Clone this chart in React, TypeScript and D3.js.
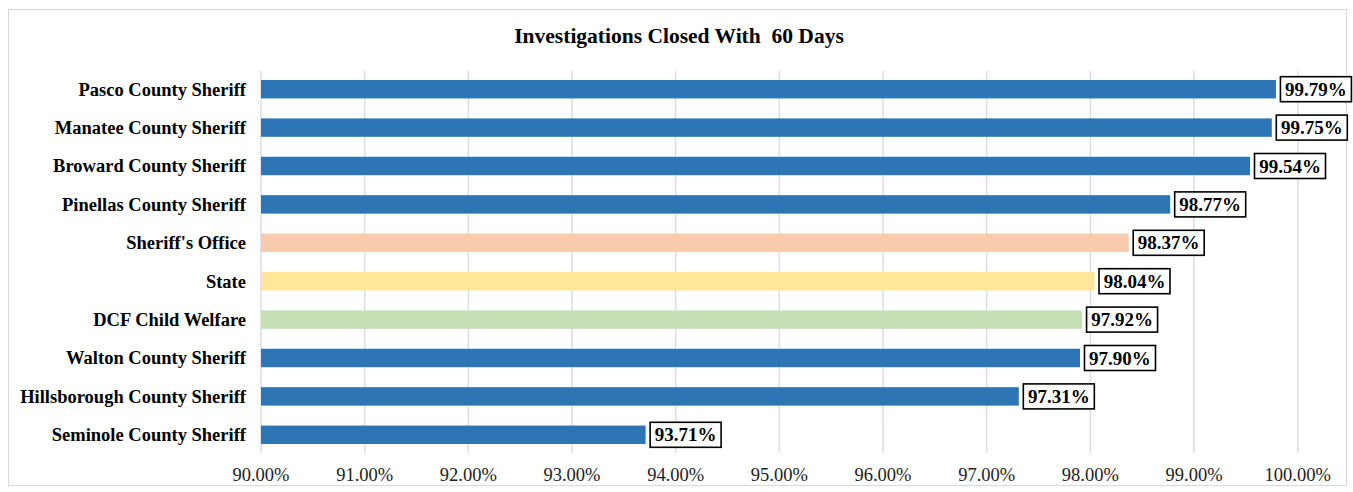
import React from "react";
import * as d3 from "d3";

const categories = [
  "Pasco County Sheriff",
  "Manatee County Sheriff",
  "Broward County Sheriff",
  "Pinellas County Sheriff",
  "Sheriff's Office",
  "State",
  "DCF Child Welfare",
  "Walton County Sheriff",
  "Hillsborough County Sheriff",
  "Seminole County Sheriff",
];
const values = [99.79, 99.75, 99.54, 98.77, 98.37, 98.04, 97.92, 97.9, 97.31, 93.71];
const barColors = ["#2E75B6", "#2E75B6", "#2E75B6", "#2E75B6", "#F8CBAD", "#FFE699", "#C5E0B4", "#2E75B6", "#2E75B6", "#2E75B6"];
const ticks = [90, 91, 92, 93, 94, 95, 96, 97, 98, 99, 100];
const title = "Investigations Closed With  60 Days";

const W = 1353;
const H = 492;
const FONT = "'Times New Roman', 'Liberation Serif', serif";

export default function App() {
  const x = d3.scaleLinear().domain([90, 100]).range([261, 1297.7]);
  const y = d3.scaleBand<string>().domain(categories).range([70, 454]).paddingInner(0.52).paddingOuter(0.26);
  const bw = y.bandwidth();
  return (
    <svg width={W} height={H} style={{ position: "absolute", left: 0, top: 0, background: "#fff" }}>
      <rect x={8.5} y={9.5} width={1338} height={476} fill="#fff" stroke="#D9D9D9" />
      <text x={679} y={43} textAnchor="middle" fontFamily={FONT} fontWeight="bold" fontSize={21.5} fill="#000" style={{ whiteSpace: "pre" }}>
        {title}
      </text>
      {ticks.map((t) => (
        <line key={t} x1={x(t)} x2={x(t)} y1={71} y2={453} stroke="#DCDCEA" strokeWidth={1.5} />
      ))}
      {ticks.map((t) => (
        <text key={"l" + t} x={x(t)} y={480.5} textAnchor="middle" fontFamily={FONT} fontSize={18.5} fill="#222">
          {d3.format(".2f")(t)}%
        </text>
      ))}
      {categories.map((c, i) => {
        const yy = y(c)!;
        const xe = x(values[i]);
        const label = d3.format(".2f")(values[i]) + "%";
        const bx = xe + 4.5;
        const bwid = 71;
        return (
          <g key={c}>
            <text x={246} y={yy + bw / 2} dy="0.35em" textAnchor="end" fontFamily={FONT} fontWeight="bold" fontSize={18.5} fill="#000">
              {c}
            </text>
            <rect x={x(90)} y={yy} width={xe - x(90)} height={bw} fill={barColors[i]} />
            <rect x={bx} y={yy + bw / 2 - 12.5} width={bwid} height={25} fill="#fff" stroke="#000" strokeWidth={1.6} />
            <text x={bx + bwid / 2} y={yy + bw / 2} dy="0.35em" textAnchor="middle" fontFamily={FONT} fontWeight="bold" fontSize={19} fill="#000">
              {label}
            </text>
          </g>
        );
      })}
    </svg>
  );
}
